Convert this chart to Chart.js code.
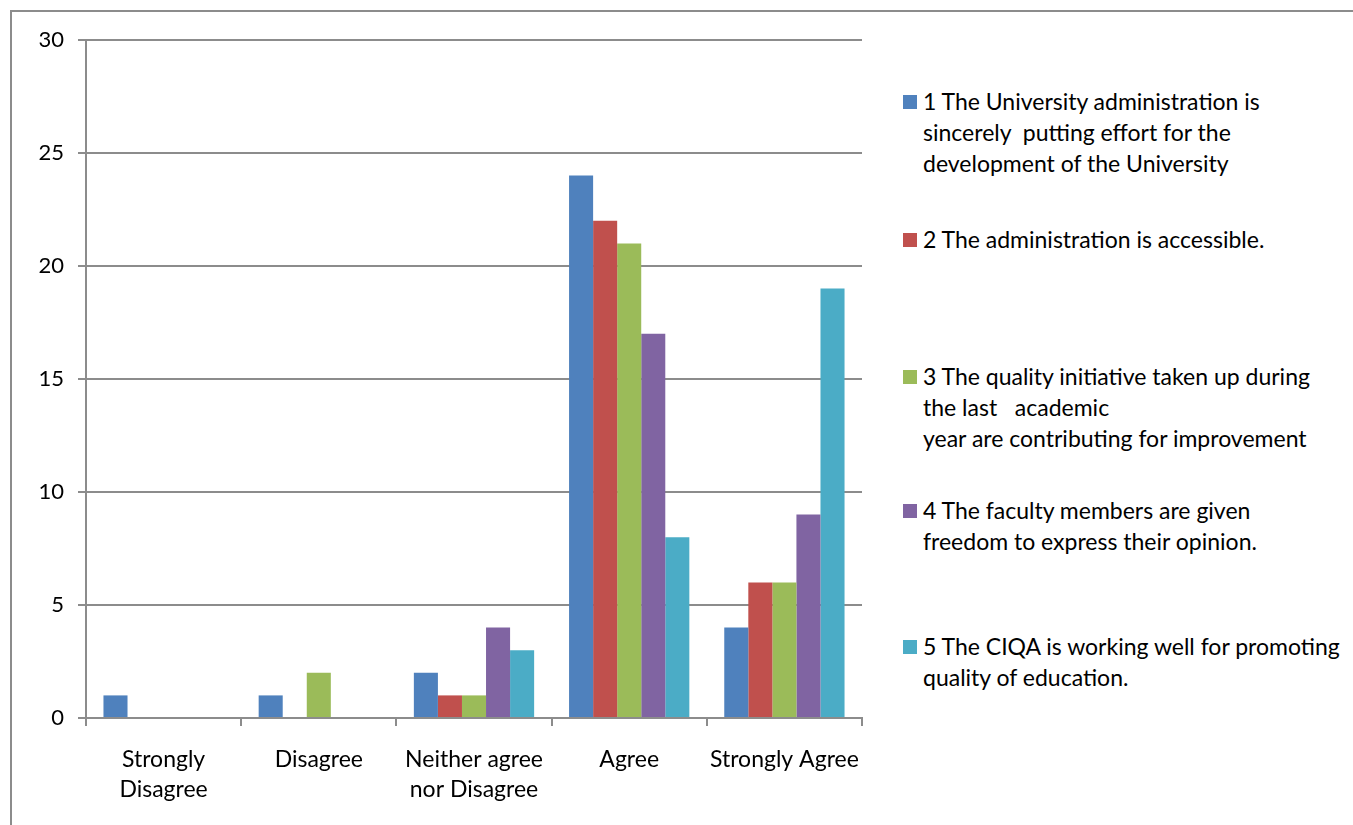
<!DOCTYPE html>
<html>
<head>
<meta charset="utf-8">
<script src="https://cdn.jsdelivr.net/npm/chart.js@4/dist/chart.umd.min.js"></script>
<style>
  html, body { margin: 0; padding: 0; background: #fff; overflow: hidden; }
  #wrap { position: relative; width: 1353px; height: 825px; }
  #frame { position: absolute; left: 10px; top: 10px; width: 1400px; height: 900px; border: 2px solid #8c8c8c; box-sizing: border-box; }
  #c { position: absolute; left: 0; top: 0; }
  #legend { position: absolute; left: 903px; top: 0; font-family: Lato, "Open Sans", sans-serif; font-size: 23px; color: #000; }
  .li { position: absolute; left: 0; white-space: nowrap; line-height: 31px; }
  .sw { position: absolute; left: 0; top: 9px; width: 14px; height: 14px; }
  .tx { margin-left: 20px; white-space: pre; }
</style>
</head>
<body>
<div id="wrap">
  <div id="frame"></div>
  <canvas id="c" width="900" height="825"></canvas>
  <div id="legend"></div>
</div>
<script>
(function () {
  "use strict";

  var categories = [["Strongly", "Disagree"], "Disagree", ["Neither agree", "nor Disagree"], "Agree", "Strongly Agree"];
  var seriesNames = [
    ["1 The University administration is", "sincerely  putting effort for the", "development of the University"],
    ["2 The administration is accessible."],
    ["3 The quality initiative taken up during", "the last   academic", "year are contributing for improvement"],
    ["4 The faculty members are given", "freedom to express their opinion."],
    ["5 The CIQA is working well for promoting", "quality of education."]
  ];
  var s1 = [1, 1, 2, 24, 4];
  var s2 = [0, 0, 1, 22, 6];
  var s3 = [0, 2, 1, 21, 6];
  var s4 = [0, 0, 4, 17, 9];
  var s5 = [0, 0, 3, 8, 19];
  var colors = ["#4F81BD", "#C0504D", "#9BBB59", "#8064A2", "#4BACC6"];
  var legendTops = [86, 224, 361, 495, 631];

  var FONT = "Lato, 'Open Sans', sans-serif";
  var GRID = "#8c8c8c";

  var datasets = [s1, s2, s3, s4, s5].map(function (d, i) {
    return {
      label: seriesNames[i].join(" "),
      data: d,
      backgroundColor: colors[i],
      borderWidth: 0,
      categoryPercentage: 0.775,
      barPercentage: 1.0
    };
  });

  new Chart(document.getElementById("c"), {
    type: "bar",
    data: { labels: categories, datasets: datasets },
    options: {
      responsive: false,
      animation: false,
      layout: { padding: { top: 40, right: 38, left: 0, bottom: 0 } },
      plugins: { legend: { display: false }, tooltip: { enabled: false } },
      scales: {
        x: {
          grid: { display: true, drawOnChartArea: false, drawTicks: true, tickLength: 8, offset: true, color: GRID, lineWidth: 2 },
          border: { display: true, color: GRID, width: 2 },
          ticks: { color: "#000", font: { family: FONT, size: 23, lineHeight: 1.3 }, padding: 19, maxRotation: 0, autoSkip: false },
          afterFit: function (s) { s.height = 107; }
        },
        y: {
          min: 0, max: 30,
          grid: { color: GRID, lineWidth: 2, tickLength: 8 },
          border: { display: true, color: GRID, width: 2 },
          ticks: { stepSize: 5, color: "#000", font: { family: FONT, size: 22 }, padding: 14 },
          afterFit: function (s) { s.width = 86; }
        }
      }
    }
  });

  var lg = document.getElementById("legend");
  seriesNames.forEach(function (lines, i) {
    var d = document.createElement("div");
    d.className = "li";
    d.style.top = legendTops[i] + "px";
    d.innerHTML = '<span class="sw" style="background:' + colors[i] + '"></span><div class="tx">' + lines.join("\n") + '</div>';
    lg.appendChild(d);
  });
})();
</script>
</body>
</html>
